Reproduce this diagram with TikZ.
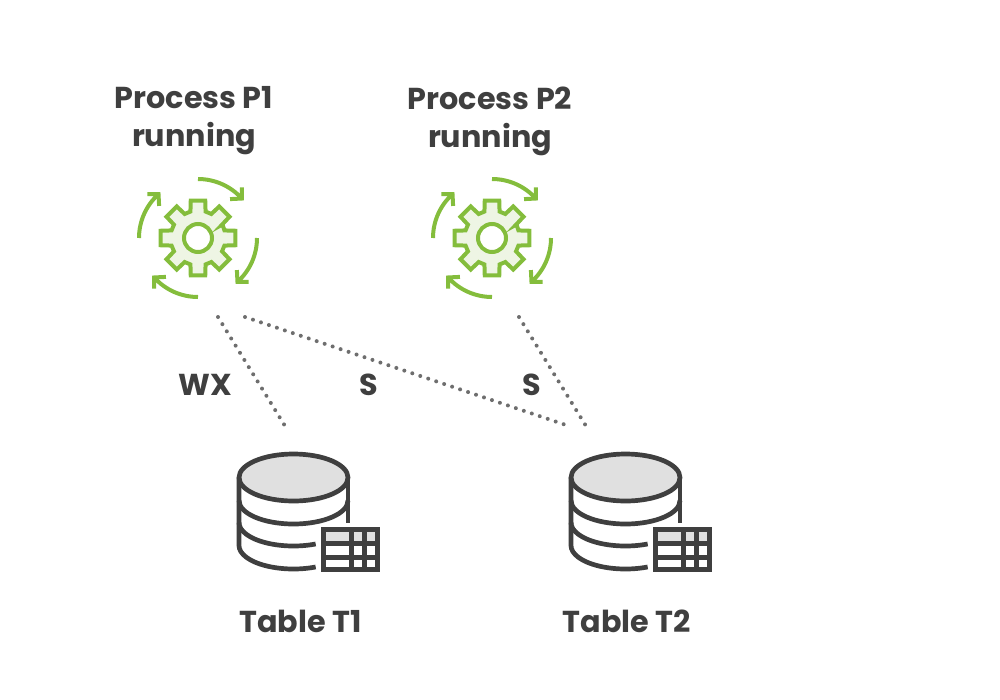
\documentclass[tikz,border=0pt]{standalone}
\usepackage{fontspec}
\setmainfont{Poppins}

\definecolor{leaf}{HTML}{84BD3C}
\definecolor{leafpale}{HTML}{EEF5E4}
\definecolor{ink}{HTML}{3F3F3F}
\definecolor{dbgray}{HTML}{E0E0E0}
\definecolor{dots}{HTML}{6E6E6E}

\tikzset{
  lbl/.style={text=ink,font=\fontsize{8.6pt}{10.8pt}\selectfont\bfseries,align=center,inner sep=0pt},
  lock/.style={draw=dots,line width=0.04cm,line cap=round,dash pattern=on 0pt off 0.084cm},
  dbline/.style={draw=ink,line width=0.047cm},
  gearicon/.pic={
    \draw[leaf,line width=0.04cm,fill=leafpale,line join=miter] (-29:28)
      \foreach \a in {0,45,...,315} { -- (\a-16:27.5) -- (\a-11:38) -- (\a+11:38) -- (\a+16:27.5)} -- cycle;
    \draw[leaf,line width=0.04cm,fill=white] (0,0) circle (14);
    \foreach \a in {-90,0,90,180}
      \draw[leaf,line width=0.04cm] (\a:59) arc (\a:\a+47.5:59) (\a+39.5:50.4) -- (\a+48:59) -- (\a+41:67);
  },
  dbicon/.pic={
    \draw[dbline,fill=dbgray] (0,0) ellipse (54.5 and 23.5);
    \draw[dbline] (-54.5,0) -- (-54.5,68) arc (180:66:54.5 and 23.5);
    \draw[dbline] (54.5,0) -- (54.5,45);
    \draw[dbline] (-54.5,23) arc (180:0:54.5 and 23.5);
    \draw[dbline] (-54.5,45) arc (180:66:54.5 and 23.5);
    % table
    \fill[dbgray] (30,52) rectangle (84,66);
    \draw[dbline] (30,52) rectangle (84,92);
    \draw[dbline] (30,66) -- (84,66);
    \draw[dbline] (30,80) -- (84,80);
    \draw[dbline] (58,52) -- (58,92);
    \draw[dbline] (71,52) -- (71,92);
  }
}

\begin{document}
\begin{tikzpicture}[x=0.01cm,y=-0.01cm]
\useasboundingbox (0,0) rectangle (1000,700);

\node[lbl] (p1) at (194,121) {Process P1\\running};
\node[lbl] (p2) at (490,121) {Process P2\\running};

\pic at (198,238) {gearicon};
\pic at (492,238) {gearicon};
\pic at (293.5,477.5) {dbicon};
\pic at (625.5,477.5) {dbicon};

\node[lbl] (t1) at (300.5,621) {Table T1};
\node[lbl] (t2) at (627,621) {Table T2};

\coordinate (p1a) at (218,317);
\coordinate (p1b) at (245,317);
\coordinate (p2a) at (519,317);
\coordinate (t1a) at (285,426);
\coordinate (t2a) at (566,425);
\coordinate (t2b) at (586,426);

\draw[lock] (p1a) -- (t1a);
\draw[lock] (p1b) -- (t2a);
\draw[lock] (p2a) -- (t2b);

\node[lbl] (wx) at (205,385) {WX};
\node[lbl] (s1) at (369,385) {S};
\node[lbl] (s2) at (532,385) {S};

\end{tikzpicture}
\end{document}
